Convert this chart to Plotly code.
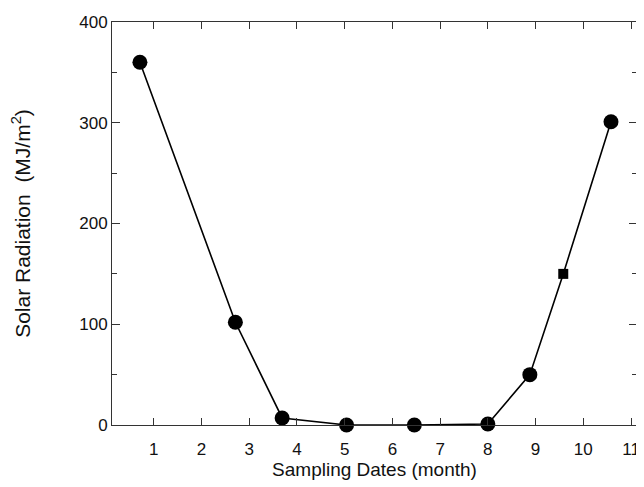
import plotly.graph_objects as go

months = [0.71, 2.71, 3.69, 5.04, 6.46, 8.0, 8.88, 9.58, 10.58]
radiation = [360, 102, 7, 0, 0, 1, 50, 150, 301]
symbols = ["circle"] * 7 + ["square"] + ["circle"]
sizes = [15] * 7 + [10] + [15]
x_ticks = list(range(1, 12))

fig = go.Figure()
fig.add_trace(go.Scatter(
    x=months, y=radiation, mode="lines+markers",
    line=dict(color="black", width=1.6),
    marker=dict(color="black", symbol=symbols, size=sizes, opacity=1,
                line=dict(color="black", width=0)),
    cliponaxis=False, showlegend=False,
))

font = "Liberation Sans, Arial, sans-serif"
fig.update_layout(
    width=636, height=479,
    margin=dict(l=104, r=4, t=14, b=62),
    paper_bgcolor="white", plot_bgcolor="white",
    font=dict(family=font, color="#111", size=16),
    xaxis=dict(
        range=[0.125, 11.125], tickvals=x_ticks, ticktext=[str(v) for v in x_ticks],
        ticks="inside", ticklen=7, tickcolor="#333", showline=True, linecolor="#333",
        linewidth=1, mirror="ticks", showgrid=False, zeroline=False,
        tickfont=dict(size=17), ticklabelstandoff=9,
        title=dict(text="Sampling Dates (month)", font=dict(size=19), standoff=3),
    ),
    yaxis=dict(
        range=[0, 400], tickmode="linear", tick0=0, dtick=100, ticks="inside",
        ticklen=8, tickcolor="#333",
        showline=True, linecolor="#333", linewidth=1, mirror="ticks",
        showgrid=False, zeroline=False, tickfont=dict(size=17),
        minor=dict(tickmode="linear", tick0=0, dtick=50, ticks="inside", ticklen=5,
                   tickcolor="#333", showgrid=False),
        title=dict(text="Solar Radiation  (MJ/m<sup>2</sup>)", font=dict(size=21), standoff=43),
    ),
)
fig.write_html("out.html")
